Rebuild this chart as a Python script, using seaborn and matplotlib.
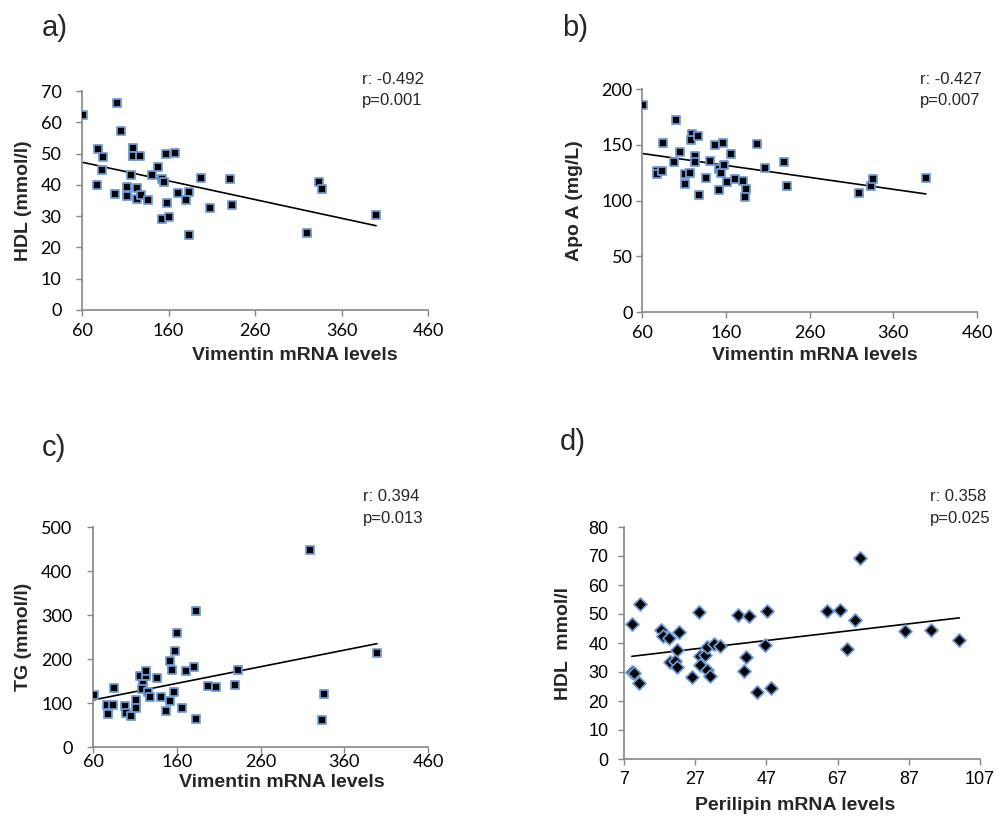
import matplotlib.pyplot as plt
import pandas as pd
import seaborn as sns

# a) vimentin vs HDL
vim_a = [61.2, 100.2, 104.9, 78.2, 84.8, 83.2, 77.0, 97.9, 118.4, 119.2, 126.5, 116.9, 111.8,
         111.8, 123.8, 123.4, 128.5, 136.6, 140.9, 147.8, 152.5, 154.4, 157.1, 167.2, 158.3,
         152.5, 161.0, 171.4, 183.8, 180.7, 183.4, 197.7, 207.4, 231.0, 233.3, 320.3, 334.3,
         337.0, 400.0]
hdl_a = [62.4, 66.3, 57.2, 51.5, 49.0, 44.6, 40.0, 37.2, 51.7, 49.3, 49.3, 43.1, 39.3,
         36.5, 38.9, 35.4, 36.6, 35.1, 43.1, 45.6, 42.0, 41.0, 49.8, 50.2, 34.1,
         29.1, 29.6, 37.5, 37.8, 35.1, 24.0, 42.2, 32.7, 42.0, 33.7, 24.7, 40.8,
         38.7, 30.4]

# b) vimentin vs Apo A
vim_b = [61.6, 100.2, 84.7, 77.5, 78.3, 83.9, 97.8, 105.4, 119.3, 118.1, 126.5, 123.3, 123.3,
         111.3, 116.9, 111.3, 128.4, 136.4, 141.2, 147.1, 157.1, 152.3, 154.3, 157.9, 152.3,
         161.1, 166.6, 171.0, 180.2, 183.8, 182.6, 197.3, 207.2, 229.9, 232.7, 319.4, 333.4,
         335.4, 399.0]
apoa_b = [185.3, 172.1, 151.4, 126.5, 123.8, 126.8, 134.6, 143.3, 159.8, 154.1, 157.7, 140.0, 134.9,
          124.1, 124.7, 114.5, 104.6, 119.9, 135.5, 149.6, 151.7, 128.0, 125.0, 131.9, 109.4,
          116.3, 141.5, 119.6, 117.8, 110.6, 102.8, 150.8, 129.5, 134.3, 113.0, 107.0, 113.0,
          119.0, 120.5]

# c) vimentin vs TG
vim_c = [61.2, 76.7, 78.3, 83.5, 84.7, 97.8, 99.8, 105.0, 111.7, 111.7, 116.1, 123.3, 123.7,
         119.3, 118.1, 126.1, 128.5, 136.0, 141.2, 147.6, 151.5, 151.9, 154.3, 156.7, 158.3,
         160.7, 166.7, 171.0, 180.6, 182.6, 183.4, 197.3, 206.5, 229.9, 232.7, 319.1, 335.8,
         333.4, 399.1]
tg_c = [118.9, 96.2, 75.8, 94.7, 134.8, 93.9, 77.3, 69.7, 106.1, 88.6, 161.4, 161.4, 172.7,
        143.9, 132.6, 125.0, 113.6, 157.6, 114.4, 81.1, 105.3, 194.7, 174.2, 125.0, 217.4,
        259.8, 87.9, 172.7, 182.6, 309.8, 64.4, 138.6, 135.6, 141.7, 175.0, 447.7, 119.7,
        62.1, 213.6]

# d) perilipin vs HDL
per_d = [9.2, 9.3, 9.7, 11.1, 11.5, 17.3, 18.0, 19.5, 22.5, 21.8, 19.9, 21.3, 21.8,
         26.0, 28.1, 28.3, 29.7, 30.3, 28.3, 30.2, 31.1, 32.2, 34.1, 38.9, 42.2,
         41.4, 40.8, 44.4, 46.6, 47.2, 48.2, 64.1, 67.6, 69.6, 71.9, 73.2, 86.0,
         93.2, 101.2]
hdl_d = [46.4, 29.9, 29.5, 26.3, 53.3, 44.6, 42.5, 41.8, 43.8, 37.7, 33.3, 33.7, 31.7,
         28.4, 50.8, 35.4, 35.7, 38.6, 32.5, 30.7, 28.7, 39.8, 39.1, 49.5, 49.2,
         35.2, 30.3, 23.2, 39.3, 51.0, 24.4, 51.1, 51.4, 37.9, 48.0, 69.3, 44.1,
         44.4, 41.1]

W, H = 1006, 827
sns.set_style("white")
plt.rcParams['font.family'] = ['Liberation Sans', 'DejaVu Sans']

fig = plt.figure(figsize=(W / 100, H / 100), dpi=100)

gray = '#868686'
edge = '#6a9bd8'


def px_text(x, y, s, **kw):
    fig.text(x / W, 1 - y / H, s, **kw)


panels = [
    dict(rect=(82, 91, 428, 310), x=vim_a, y=hdl_a, marker='s', xlabel='Vimentin mRNA levels',
         ylabel='HDL (mmol/l)', xt=range(60, 461, 100), yt=range(0, 71, 10), tf='Lato',
         xpad=5, ypad=10.5, ylx=32, xl=(295, 347), letter='a)', lp=(42, 28),
         r='r: -0.492', p='p=0.001', sp=(362, 80)),
    dict(rect=(642, 89, 977, 312), x=vim_b, y=apoa_b, marker='s', xlabel='Vimentin mRNA levels',
         ylabel='Apo A (mg/L)', xt=range(60, 461, 100), yt=range(0, 201, 50), tf='Lato',
         xpad=5, ypad=2.5, ylx=583, xl=(815, 347), letter='b)', lp=(562, 28),
         r='r: -0.427', p='p=0.007', sp=(920, 80)),
    dict(rect=(93, 527, 428, 747), x=vim_c, y=tg_c, marker='s', xlabel='Vimentin mRNA levels',
         ylabel='TG (mmol/l)', xt=range(60, 461, 100), yt=range(0, 501, 100), tf='Lato',
         xpad=0.5, ypad=10.5, ylx=32, xl=(282, 774), letter='c)', lp=(42, 448),
         r='r: 0.394', p='p=0.013', sp=(363, 497)),
    dict(rect=(624, 527, 980, 759), x=per_d, y=hdl_d, marker='D', xlabel='Perilipin mRNA levels',
         ylabel='HDL  mmol/l', xt=range(7, 108, 20), yt=range(0, 81, 10), tf='Liberation Sans',
         xpad=4, ypad=7, ylx=572, xl=(795, 797), letter='d)', lp=(560, 442),
         r='r: 0.358', p='p=0.025', sp=(930, 497)),
]

for pn in panels:
    l, t, r, b = pn['rect']
    ax = fig.add_axes([l / W, 1 - b / H, (r - l) / W, (b - t) / H])
    df = pd.DataFrame({'x': pn['x'], 'y': pn['y']})
    ms = 36 if pn['marker'] == 's' else 44
    sns.scatterplot(data=df, x='x', y='y', marker=pn['marker'], color='black', edgecolor=edge,
                    linewidth=1.3, s=ms, ax=ax, zorder=3)
    sns.regplot(data=df, x='x', y='y', scatter=False, ci=None, truncate=True, ax=ax,
                line_kws=dict(color='black', lw=1.2, zorder=2))
    xt, yt = list(pn['xt']), list(pn['yt'])
    ax.set_xlim(xt[0], xt[-1])
    ax.set_ylim(yt[0], yt[-1])
    ax.set_xticks(xt)
    ax.set_yticks(yt)
    for lab in ax.get_xticklabels() + ax.get_yticklabels():
        lab.set_fontfamily(pn['tf'])
        lab.set_fontsize(13)
        lab.set_color('black')
    ax.tick_params(direction='out', length=4.3, width=1, color=gray)
    ax.tick_params(axis='x', pad=pn['xpad'])
    ax.tick_params(axis='y', pad=pn['ypad'])
    ax.xaxis.set_ticks_position('bottom')
    ax.yaxis.set_ticks_position('left')
    sns.despine(ax=ax)
    for sp in ['left', 'bottom']:
        ax.spines[sp].set_color(gray)
        ax.spines[sp].set_linewidth(1.2)
    ax.set_xlabel(pn['xlabel'], fontsize=14, fontweight='bold', va='top')
    ax.set_ylabel(pn['ylabel'], fontsize=14, fontweight='bold')
    ax.xaxis.set_label_coords((pn['xl'][0] - l) / (r - l), (b - pn['xl'][1]) / (b - t))
    ax.yaxis.set_label_coords((pn['ylx'] - l) / (r - l), 0.5)
    ax.patch.set_alpha(0)

    px_text(pn['lp'][0], pn['lp'][1], pn['letter'], fontsize=21, va='center', ha='left')
    sx, sy = pn['sp']
    px_text(sx, sy, pn['r'], fontsize=12, va='center', ha='left')
    px_text(sx, sy + 21, pn['p'], fontsize=12, va='center', ha='left')

fig.savefig('out.png', dpi=100, facecolor='white')
